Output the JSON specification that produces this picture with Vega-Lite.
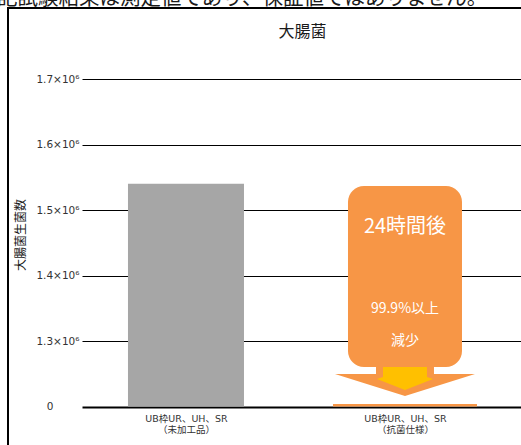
{
  "$schema": "https://vega.github.io/schema/vega-lite/v6.json",
  "width": 530,
  "height": 464,
  "autosize": {"type": "none"},
  "padding": {"left": 8, "top": 8, "right": 0, "bottom": 0},
  "background": "white",
  "config": {
    "view": {"stroke": "black", "strokeWidth": 2},
    "font": "Noto Sans CJK JP"
  },
  "title": {
    "text": "大腸菌",
    "font": "Noto Sans CJK JP",
    "fontSize": 16,
    "fontWeight": "normal",
    "color": "#1a1a1a",
    "anchor": "middle",
    "dx": 29.5,
    "dy": 20,
    "offset": -31
  },
  "datasets": {
    "bars": [
      {"製品": "UB枠UR、UH、SR\n（未加工品）", "生菌数": 1540000},
      {"製品": "UB枠UR、UH、SR\n（抗菌仕様）", "生菌数": 1204000}
    ]
  },
  "layer": [
    {
      "data": {"name": "bars"},
      "mark": {"type": "bar"},
      "encoding": {
        "x": {
          "field": "製品",
          "type": "nominal",
          "sort": null,
          "scale": {"type": "point", "padding": 0.71, "align": 0.5723, "round": false},
          "axis": {
            "orient": "bottom",
            "offset": -65,
            "domain": false,
            "ticks": false,
            "grid": false,
            "title": null,
            "labelAngle": 0,
            "labelExpr": "split(datum.label, '\\n')",
            "labelFont": "DejaVu Sans, Noto Sans CJK JP",
            "labelFontSize": 9.5,
            "labelColor": "#333333",
            "labelPadding": 6,
            "labelLineHeight": 11,
            "zindex": 0
          }
        },
        "y": {
          "field": "生菌数",
          "type": "quantitative",
          "scale": {"domain": [1100000, 1808400], "nice": false, "zero": false},
          "axis": {
            "values": [1200000, 1300000, 1400000, 1500000, 1600000, 1700000],
            "labelExpr": "datum.value == 1200000 ? '0' : format(datum.value / 1000000, '.1f') + '×10⁶'",
            "offset": -74,
            "domain": false,
            "grid": false,
            "ticks": true,
            "tickSize": -445,
            "tickColor": "black",
            "tickWidth": {"condition": {"test": "datum.value == 1200000", "value": 2.2}, "value": 1},
            "labelPadding": {"condition": {"test": "datum.value == 1200000", "value": 474}, "value": 448},
            "labelFont": "DejaVu Sans",
            "labelFontSize": 10.5,
            "labelColor": "#333333",
            "title": "大腸菌生菌数",
            "titleFont": "Noto Sans CJK JP",
            "titleFontSize": 12,
            "titleFontWeight": "normal",
            "titleColor": "#1a1a1a",
            "titleX": -61.5,
            "titleY": 226.5,
            "titleAngle": -90,
            "titleAlign": "center",
            "titleBaseline": "middle",
            "zindex": 0
          }
        },
        "y2": {"datum": 1200000},
        "color": {
          "field": "製品",
          "type": "nominal",
          "sort": null,
          "scale": {"range": ["#A6A6A6", "#F79646"]},
          "legend": null
        },
        "size": {
          "field": "製品",
          "type": "nominal",
          "sort": null,
          "scale": {"range": [116, 144]},
          "legend": null
        }
      }
    },
    {
      "data": {"values": [{"注記": "24時間後 99.9%以上 減少"}]},
      "mark": {"type": "bar", "color": "#F79646", "width": 114, "cornerRadius": 16},
      "encoding": {
        "x": {"datum": "UB枠UR、UH、SR\n（抗菌仕様）"},
        "y": {"datum": 1536600},
        "y2": {"datum": 1260300}
      }
    },
    {
      "data": {"values": [{"注記": "矢印"}]},
      "mark": {
        "type": "point",
        "shape": "M-0.414,-0.2L0.414,-0.2L0.414,-0.1L1,-0.1L0,0.214L-1,-0.1L-0.414,-0.1Z",
        "filled": true,
        "fill": "#F79646",
        "opacity": 1,
        "strokeWidth": 0,
        "size": 19600
      },
      "encoding": {
        "x": {"datum": "UB枠UR、UH、SR\n（抗菌仕様）"},
        "y": {"datum": 1238900}
      }
    },
    {
      "data": {"values": [{"注記": "矢印内側"}]},
      "mark": {
        "type": "point",
        "shape": "M-0.314,-0.2L0.314,-0.2L0.314,-0.057L0.4,-0.029L0,0.129L-0.4,-0.029L-0.314,-0.057Z",
        "filled": true,
        "fill": "#FFC000",
        "opacity": 1,
        "strokeWidth": 0,
        "size": 19600
      },
      "encoding": {
        "x": {"datum": "UB枠UR、UH、SR\n（抗菌仕様）"},
        "y": {"datum": 1238900}
      }
    },
    {
      "data": {"values": [{"注記": "24時間後"}]},
      "mark": {"type": "text", "font": "Noto Sans CJK JP", "fontSize": 20, "color": "white", "align": "center", "baseline": "middle"},
      "encoding": {
        "x": {"datum": "UB枠UR、UH、SR\n（抗菌仕様）"},
        "y": {"datum": 1474800},
        "text": {"field": "注記"}
      }
    },
    {
      "data": {"values": [{"注記": "99.9%以上"}]},
      "mark": {"type": "text", "font": "Noto Sans CJK JP", "fontSize": 14, "color": "white", "align": "center", "baseline": "middle"},
      "encoding": {
        "x": {"datum": "UB枠UR、UH、SR\n（抗菌仕様）"},
        "y": {"datum": 1348900},
        "text": {"field": "注記"}
      }
    },
    {
      "data": {"values": [{"注記": "減少"}]},
      "mark": {"type": "text", "font": "Noto Sans CJK JP", "fontSize": 14, "color": "white", "align": "center", "baseline": "middle"},
      "encoding": {
        "x": {"datum": "UB枠UR、UH、SR\n（抗菌仕様）"},
        "y": {"datum": 1300500},
        "text": {"field": "注記"}
      }
    },
    {
      "data": {"values": [{"注記": "上記試験結果は測定値であり、保証値ではありません。"}]},
      "mark": {"type": "text", "font": "Noto Sans CJK JP", "fontSize": 20.5, "color": "#1a1a1a", "align": "left", "baseline": "alphabetic", "dx": -209.5},
      "encoding": {
        "x": {"datum": "UB枠UR、UH、SR\n（未加工品）"},
        "y": {"datum": 1813000},
        "text": {"field": "注記"}
      }
    }
  ]
}
